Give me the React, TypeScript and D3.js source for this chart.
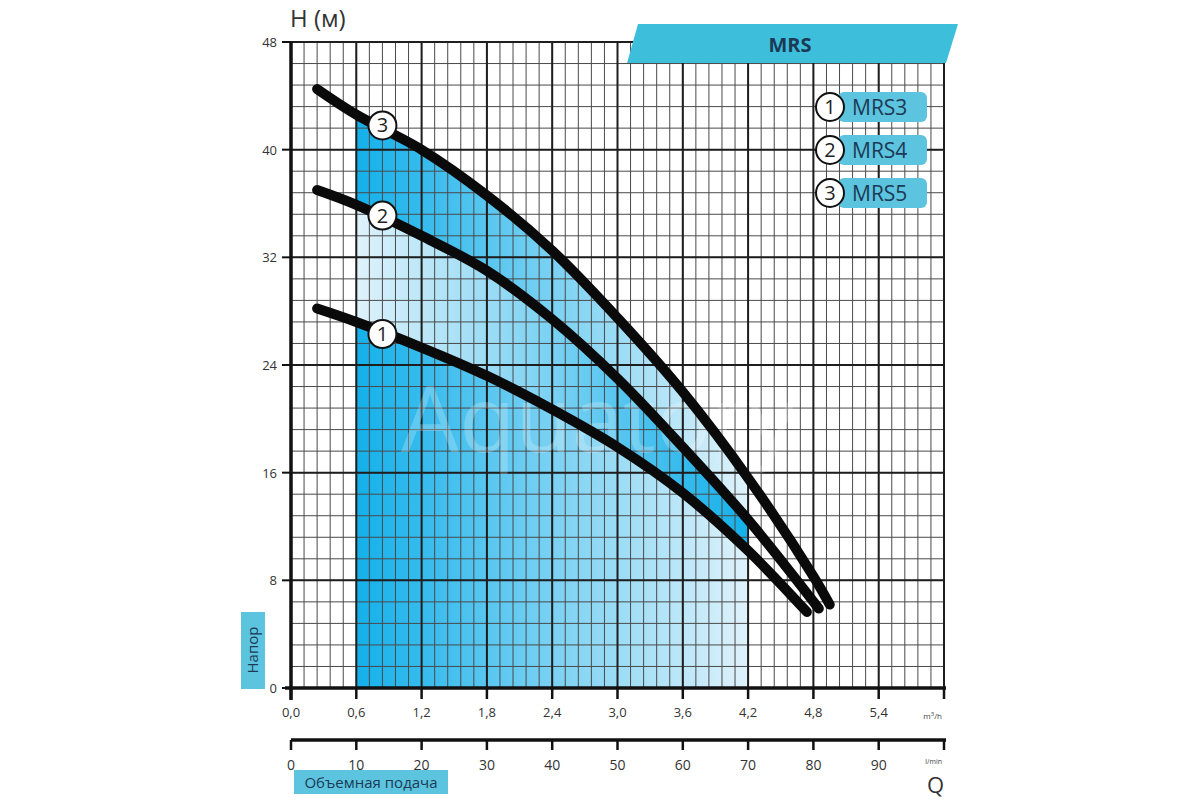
import React from "react";
import * as d3 from "d3";

// pump curves (Q in m3/h, H in m)
const mrs3Q = [0.24, 0.6, 1.2, 1.8, 2.4, 3.0, 3.6, 4.2, 4.74];
const mrs3H = [28.2, 27.2, 25.3, 23.2, 20.7, 17.9, 14.5, 10.2, 5.65];
const mrs4Q = [0.24, 0.6, 1.2, 1.8, 2.4, 3.0, 3.6, 4.2, 4.85];
const mrs4H = [37.0, 35.9, 33.6, 31.0, 27.4, 23.0, 17.9, 12.5, 5.9];
const mrs5Q = [0.24, 0.6, 1.2, 1.8, 2.4, 3.0, 3.6, 4.2, 4.8, 4.95];
const mrs5H = [44.5, 42.6, 40.0, 36.6, 32.5, 27.5, 22.0, 15.6, 8.3, 6.2];

const models = ["MRS3", "MRS4", "MRS5"];
const markerQ = 0.84;
const markerH = [26.3, 35.1, 41.8];

const workRange = [0.6, 4.2];

const headTicks = [0, 8, 16, 24, 32, 40, 48];
const flowTicks = [0, 0.6, 1.2, 1.8, 2.4, 3.0, 3.6, 4.2, 4.8, 5.4, 6.0];
const flowTickLabels = ["0,0", "0,6", "1,2", "1,8", "2,4", "3,0", "3,6", "4,2", "4,8", "5,4", ""];
const lpmTicks = [0, 10, 20, 30, 40, 50, 60, 70, 80, 90, 100];

const font = "'Open Sans', 'Noto Sans', sans-serif";
const bright = "#14b0ea";
const pale = "#dff2fb";
const tag = "#5cc4de";
const navy = "#1c3a56";

const x = d3.scaleLinear().domain([0, 6]).range([291, 944]);
const xl = d3.scaleLinear().domain([0, 100]).range([291, 944]);
const y = d3.scaleLinear().domain([0, 48]).range([688, 42]);

type Pt = [number, number];
const zip = (q: number[], h: number[]): Pt[] => q.map((v, i) => [v, h[i]]);

const curves = [zip(mrs3Q, mrs3H), zip(mrs4Q, mrs4H), zip(mrs5Q, mrs5H)];

const line = d3
  .line<Pt>()
  .x((d) => x(d[0]))
  .y((d) => y(d[1]))
  .curve(d3.curveCatmullRom.alpha(0.5));

// band between two curves: upper one forward, lower one back (clipped later)
const band = (lo: Pt[] | null, hi: Pt[]) => {
  const top = line(hi) || "";
  let bottom: string;
  if (lo) {
    bottom = (line([...lo].reverse()) || "").replace(/^M/, "L");
  } else {
    const last = hi[hi.length - 1];
    bottom = `L${x(last[0])},${y(0)}L${x(hi[0][0])},${y(0)}`;
  }
  return top + bottom + "Z";
};

const minorX = d3.range(0, 51).map((i) => i * 0.12);
const minorY = d3.range(0, 31).map((i) => i * 1.6);

const App = () => {
  return (
    <svg
      width={1200}
      height={800}
      style={{ position: "absolute", left: 0, top: 0, background: "#fff" }}
      fontFamily={font}
    >
      <defs>
        <clipPath id="work">
          <rect
            x={x(workRange[0])}
            y={y(48)}
            width={x(workRange[1]) - x(workRange[0])}
            height={y(0) - y(48)}
          />
        </clipPath>
        <linearGradient id="gOut" gradientUnits="userSpaceOnUse" x1={x(0.6)} x2={x(4.2)} y1={0} y2={0}>
          <stop offset="0" stopColor={bright} />
          <stop offset="1" stopColor={pale} />
        </linearGradient>
        <linearGradient id="gIn" gradientUnits="userSpaceOnUse" x1={x(0.6)} x2={x(4.2)} y1={0} y2={0}>
          <stop offset="0" stopColor={pale} />
          <stop offset="1" stopColor={bright} />
        </linearGradient>
      </defs>

      {/* working range bands */}
      <g clipPath="url(#work)">
        <path d={band(null, curves[0])} fill="url(#gOut)" />
        <path d={band(curves[0], curves[1])} fill="url(#gIn)" />
        <path d={band(curves[1], curves[2])} fill="url(#gOut)" />
      </g>

      {/* grid */}
      <g>
        {minorX.map((q, i) => (
          <line key={"vx" + i} x1={x(q)} x2={x(q)} y1={y(48)} y2={y(0)} stroke="#4a4a4a" strokeWidth={1} />
        ))}
        {minorY.map((h, i) => (
          <line key={"hy" + i} x1={x(0)} x2={x(6)} y1={y(h)} y2={y(h)} stroke="#4a4a4a" strokeWidth={1} />
        ))}
        {flowTicks.map((q, i) => (
          <line key={"Vx" + i} x1={x(q)} x2={x(q)} y1={y(48)} y2={y(0)} stroke="#1e1e1e" strokeWidth={2} />
        ))}
        {headTicks.map((h, i) => (
          <line key={"Hy" + i} x1={x(0)} x2={x(6)} y1={y(h)} y2={y(h)} stroke="#1e1e1e" strokeWidth={2} />
        ))}
      </g>

      <text
        x={598}
        y={452}
        textAnchor="middle"
        fontSize={92}
        fontFamily="'Open Sans', sans-serif"
        fill="#ffffff"
        opacity={0.22}
      >
        Aquatory
      </text>

      {/* head axis */}
      <line x1={x(0)} x2={x(0)} y1={y(48)} y2={y(0) + 12} stroke="#111" strokeWidth={3.5} />
      {headTicks.map((h) => (
        <g key={"ht" + h}>
          <line x1={x(0) - 9} x2={x(0)} y1={y(h)} y2={y(h)} stroke="#111" strokeWidth={2} />
          <text x={x(0) - 14} y={y(h) + 5} textAnchor="end" fontSize={13} fill="#333">
            {h}
          </text>
        </g>
      ))}
      <text x={290} y={27} fontSize={24} fill="#333">
        H (м)
      </text>

      {/* m3/h axis */}
      <line x1={x(0) - 6} x2={x(6) + 2} y1={y(0)} y2={y(0)} stroke="#111" strokeWidth={3.5} />
      {flowTicks.map((q, i) => (
        <g key={"ft" + i}>
          <line x1={x(q)} x2={x(q)} y1={y(0)} y2={y(0) + 11} stroke="#111" strokeWidth={2.5} />
          <text x={x(q)} y={y(0) + 29} textAnchor="middle" fontSize={13} fill="#333">
            {flowTickLabels[i]}
          </text>
        </g>
      ))}
      <text x={x(6) - 2} y={719} textAnchor="end" fontSize={8} fill="#444">
        m<tspan dy={-3} fontSize={6}>3</tspan>
        <tspan dy={3}>/h</tspan>
      </text>

      {/* l/min axis */}
      <line x1={xl(0)} x2={xl(100) + 2} y1={740} y2={740} stroke="#111" strokeWidth={3.5} />
      {lpmTicks.map((v) => (
        <g key={"lt" + v}>
          <line x1={xl(v)} x2={xl(v)} y1={740} y2={750} stroke="#111" strokeWidth={2.5} />
          {v < 100 && (
            <text x={xl(v)} y={770} textAnchor="middle" fontSize={14} fill="#333">
              {v}
            </text>
          )}
        </g>
      ))}
      <text x={xl(100) - 2} y={764} textAnchor="end" fontSize={7} fill="#444">
        l/min
      </text>
      <text x={944} y={793} textAnchor="end" fontSize={22} fill="#333">
        Q
      </text>

      {/* axis tags */}
      <rect x={294} y={770} width={154} height={24} fill={tag} />
      <text x={371} y={788} textAnchor="middle" fontSize={15} fill={navy}>
        Объемная подача
      </text>
      <rect x={241} y={612} width={24} height={77} fill={tag} />
      <text
        transform={`translate(258,650) rotate(-90)`}
        textAnchor="middle"
        fontSize={15}
        fill={navy}
      >
        Напор
      </text>

      {/* curves */}
      {curves.map((c, i) => (
        <path
          key={"c" + i}
          d={line(c) || ""}
          fill="none"
          stroke="#0a0a0a"
          strokeWidth={10}
          strokeLinecap="round"
          strokeLinejoin="round"
        />
      ))}
      {markerH.map((h, i) => (
        <g key={"m" + i} transform={`translate(${x(markerQ)},${y(h)})`}>
          <circle r={14} fill="#fff" stroke="#111" strokeWidth={2} />
          <text y={7} textAnchor="middle" fontSize={20} fill="#222">
            {i + 1}
          </text>
        </g>
      ))}

      {/* title banner */}
      <path d="M638,24 L958,24 L946,63 L627,63 Z" fill="#3dbfdc" />
      <text x={790} y={52} textAnchor="middle" fontSize={20} fontWeight="bold" fill={navy}>
        MRS
      </text>

      {/* legend */}
      {models.map((m, i) => {
        const cy = 107 + i * 43;
        return (
          <g key={m}>
            <rect x={838} y={cy - 15} width={89} height={30} rx={6} fill={tag} />
            <circle cx={830} cy={cy} r={14} fill="#fff" stroke="#111" strokeWidth={2} />
            <text x={830} y={cy + 7} textAnchor="middle" fontSize={20} fill="#222">
              {i + 1}
            </text>
            <text x={852} y={cy + 8} fontSize={21} fill={navy}>
              {m}
            </text>
          </g>
        );
      })}
    </svg>
  );
};

export default App;
